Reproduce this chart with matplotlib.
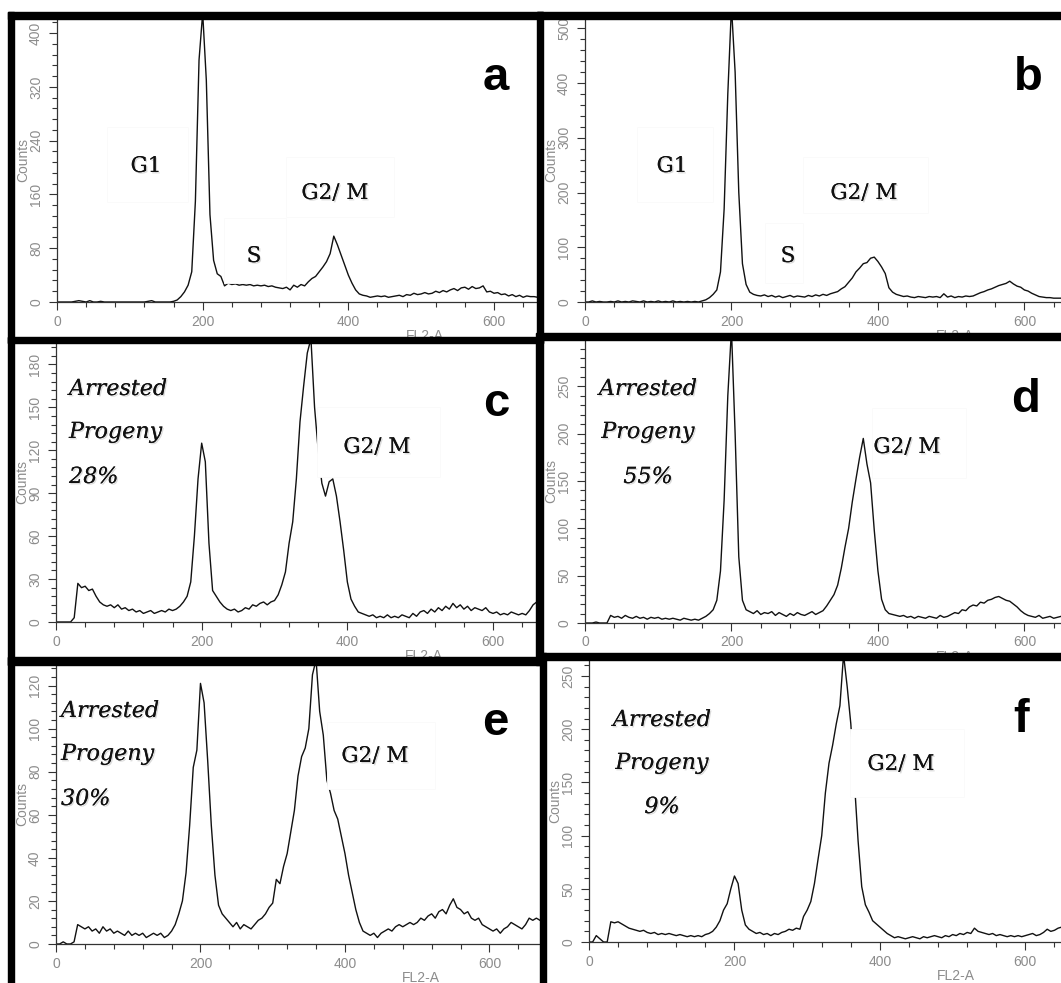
import numpy as np
import matplotlib.pyplot as plt
from matplotlib.patches import Rectangle
from matplotlib.ticker import MultipleLocator
import matplotlib.patheffects as pe

plt.rcParams['font.family'] = ['Liberation Sans', 'DejaVu Sans']

# FL2-A channel grid (every 5 channels), counts
channel = np.arange(0, 675, 5)

counts_a = [0, 0, 0, 0, 0, 1, 2, 1, 0, 2,
            0, 0, 1, 0, 0, 0, 0, 0, 0, 0,
            0, 0, 0, 0, 0, 1, 2, 0, 0, 0,
            0, 0, 1, 3, 8, 15, 25, 45, 150, 360,
            430, 330, 130, 62, 42, 38, 24, 28, 26, 27,
            25, 26, 25, 26, 24, 25, 24, 25, 23, 24,
            22, 21, 20, 22, 18, 25, 22, 26, 24, 30,
            35, 38, 45, 52, 60, 72, 98, 85, 70, 55,
            40, 28, 18, 12, 10, 9, 7, 8, 9, 8,
            9, 7, 8, 9, 10, 8, 11, 10, 13, 11,
            12, 14, 12, 13, 16, 14, 17, 15, 18, 20,
            17, 21, 22, 19, 23, 20, 21, 24, 15, 16,
            13, 14, 11, 12, 9, 11, 8, 10, 7, 9,
            8, 8, 7, 8, 8]

counts_b = [0, 0, 2, 0, 1, 0, 0, 1, 0, 2,
            0, 1, 0, 2, 1, 0, 2, 0, 1, 0,
            2, 0, 1, 0, 2, 0, 1, 0, 1, 0,
            1, 0, 2, 4, 8, 14, 22, 55, 170, 380,
            540, 420, 200, 70, 32, 18, 14, 12, 11, 13,
            10, 12, 9, 11, 8, 10, 12, 9, 11, 10,
            9, 12, 10, 13, 11, 14, 12, 15, 17, 19,
            24, 28, 36, 44, 55, 62, 70, 72, 80, 82,
            74, 64, 52, 26, 18, 14, 12, 10, 11, 9,
            8, 10, 9, 8, 10, 9, 10, 8, 15, 9,
            11, 8, 10, 9, 11, 10, 11, 14, 17, 19,
            22, 24, 27, 30, 32, 34, 38, 33, 29, 27,
            22, 20, 16, 13, 10, 9, 8, 8, 7, 7,
            7, 6, 6, 6, 6]

counts_c = [0, 0, 0, 0, 0, 3, 27, 24, 25, 22,
            23, 18, 14, 12, 11, 12, 10, 12, 9, 10,
            8, 9, 7, 8, 6, 7, 8, 6, 7, 8,
            7, 9, 8, 9, 11, 14, 18, 28, 60, 100,
            125, 112, 55, 22, 18, 14, 11, 9, 8, 9,
            7, 8, 10, 9, 12, 11, 13, 14, 12, 14,
            15, 19, 26, 35, 55, 70, 100, 140, 165, 188,
            198, 150, 120, 97, 88, 98, 100, 88, 70, 50,
            28, 16, 11, 7, 6, 5, 4, 5, 3, 4,
            3, 5, 3, 4, 3, 5, 4, 3, 6, 4,
            7, 8, 6, 9, 7, 10, 8, 11, 9, 13,
            10, 12, 9, 11, 8, 10, 9, 8, 10, 7,
            6, 7, 5, 6, 5, 7, 6, 5, 6, 5,
            8, 12, 14, 12, 10]

counts_d = [0, 0, 0, 1, 0, 0, 0, 8, 6, 7,
            5, 8, 6, 5, 7, 5, 6, 4, 6, 5,
            6, 4, 5, 4, 5, 4, 3, 5, 4, 3,
            4, 3, 5, 7, 10, 14, 24, 55, 130, 240,
            310, 200, 70, 24, 14, 12, 10, 13, 9, 11,
            10, 12, 8, 11, 9, 7, 10, 8, 11, 9,
            8, 10, 12, 9, 11, 13, 18, 24, 30, 40,
            58, 80, 100, 128, 152, 175, 195, 168, 148, 98,
            55, 25, 14, 10, 9, 8, 7, 8, 6, 7,
            5, 7, 6, 5, 7, 6, 5, 8, 6, 7,
            9, 11, 10, 14, 13, 17, 19, 18, 22, 21,
            24, 25, 27, 28, 26, 24, 23, 20, 17, 13,
            10, 8, 7, 6, 8, 5, 6, 7, 5, 6,
            7, 6, 6, 6, 6]

counts_e = [0, 0, 1, 0, 0, 1, 9, 8, 7, 8,
            6, 7, 5, 8, 6, 7, 5, 6, 5, 4,
            6, 4, 5, 4, 5, 3, 4, 5, 4, 5,
            3, 4, 6, 9, 14, 20, 33, 55, 82, 90,
            121, 112, 85, 55, 32, 18, 14, 12, 10, 8,
            10, 7, 9, 8, 7, 9, 11, 12, 14, 17,
            19, 30, 28, 36, 42, 52, 62, 78, 87, 91,
            100, 125, 132, 108, 97, 76, 70, 62, 58, 50,
            42, 32, 24, 16, 10, 6, 5, 4, 5, 3,
            5, 6, 7, 6, 8, 9, 8, 9, 10, 9,
            10, 12, 11, 13, 14, 12, 15, 16, 14, 18,
            21, 17, 16, 14, 15, 12, 11, 12, 9, 8,
            7, 6, 7, 5, 7, 8, 10, 9, 8, 7,
            9, 12, 11, 12, 11]

counts_f = [0, 0, 6, 3, 0, 0, 19, 18, 19, 17,
            15, 13, 12, 11, 10, 11, 9, 8, 9, 7,
            8, 7, 8, 7, 6, 7, 6, 5, 6, 5,
            6, 5, 7, 8, 10, 14, 20, 30, 36, 50,
            62, 55, 30, 16, 12, 10, 8, 9, 7, 8,
            6, 8, 7, 9, 10, 12, 11, 13, 12, 24,
            30, 38, 55, 78, 100, 140, 168, 185, 205, 222,
            270, 240, 205, 150, 95, 52, 35, 28, 20, 17,
            14, 11, 8, 6, 4, 5, 4, 3, 4, 5,
            4, 3, 5, 4, 5, 6, 5, 4, 6, 5,
            7, 6, 8, 7, 9, 8, 13, 10, 9, 8,
            7, 8, 6, 7, 6, 5, 6, 5, 6, 5,
            6, 7, 8, 6, 7, 9, 12, 10, 11, 13,
            14, 12, 13, 12, 12]

letters = ['a', 'b', 'c', 'd', 'e', 'f']
progeny = [None, None, '28%', '55%', '30%', '9%']

W, H = 1061, 983
fig = plt.figure(figsize=(W / 100, H / 100), dpi=100)
fig.patch.set_facecolor('white')


def px_text(x, y, s, **kw):
    return fig.text(x / W, 1 - y / H, s, **kw)


def black_bar(x0, y0, x1, y1):
    fig.add_artist(Rectangle((x0 / W, 1 - y1 / H), (x1 - x0) / W, (y1 - y0) / H,
                             transform=fig.transFigure, color='black', zorder=10))


# panel layout in pixels: left, top, right, bottom of the plot area, axis limits, y major step
panels = [
    dict(box=(57, 19, 537, 302), xmax=659, ymax=421, ymaj=80, counts=counts_a),
    dict(box=(585, 19, 1061, 302), xmax=650, ymax=517, ymaj=100, counts=counts_b),
    dict(box=(56, 343, 536, 622), xmax=659, ymax=195, ymaj=30, counts=counts_c),
    dict(box=(585, 340, 1061, 623), xmax=650, ymax=299, ymaj=50, counts=counts_d),
    dict(box=(56, 664, 540, 944), xmax=670, ymax=130, ymaj=20, counts=counts_e),
    dict(box=(589, 660, 1061, 942), xmax=649, ymax=265, ymaj=50, counts=counts_f),
]

# white label boxes sitting over the curves (data coords)
cover = [
    [(68, 149, 180, 261), (229, 28, 314, 125), (314, 127, 463, 216)],
    [(71, 183, 175, 320), (246, 34, 298, 144), (298, 162, 468, 265)],
    [(358, 101, 527, 150)],
    [(392, 153, 520, 227)],
    [(375, 72, 524, 103)],
    [(359, 136, 516, 200)],
]

axes = []
for i, p in enumerate(panels):
    l, t, r, b = p['box']
    ax = fig.add_axes([l / W, 1 - b / H, (r - l) / W, (b - t) / H])
    ax.plot(channel, p['counts'], color='#111111', lw=1.0, zorder=2)
    ax.set_xlim(0, p['xmax'])
    ax.set_ylim(0, p['ymax'])
    for s in ['top', 'right']:
        ax.spines[s].set_visible(False)
    for s in ['left', 'bottom']:
        ax.spines[s].set_color('#333333')
        ax.spines[s].set_linewidth(0.9)
    ax.xaxis.set_major_locator(MultipleLocator(200))
    ax.xaxis.set_minor_locator(MultipleLocator(40))
    ax.yaxis.set_major_locator(MultipleLocator(p['ymaj']))
    ax.yaxis.set_minor_locator(MultipleLocator(p['ymaj'] / 5))
    ax.tick_params(which='both', direction='out', color='#333333', width=0.8,
                   labelcolor='#8c8c8c', labelsize=10)
    ax.tick_params(which='major', length=6)
    ax.tick_params(which='minor', length=3.5)
    ax.tick_params(axis='x', pad=3)
    ax.tick_params(axis='y', pad=4)
    plt.setp(ax.get_yticklabels(), rotation=90, va='center')
    for (x0, y0, x1, y1) in cover[i]:
        ax.add_patch(Rectangle((x0, y0), x1 - x0, y1 - y0, facecolor='white',
                               edgecolor='#fafafa', lw=0.6, zorder=3))
    ax.text(-34 / (r - l), 0.5, 'Counts', transform=ax.transAxes, rotation=90,
            ha='center', va='center', fontsize=10, color='#8c8c8c')
    ax.text(505 / p['xmax'], -34 / (b - t), 'FL2-A', transform=ax.transAxes,
            ha='center', va='center', fontsize=10, color='#8c8c8c')
    axes.append(ax)

# panel letters
letter_pos = [(496, 90), (1028, 90), (496, 416), (1026, 412), (495, 735), (1021, 732)]
for s, (x, y) in zip(letters, letter_pos):
    px_text(x, y, s, fontsize=34, fontweight='bold', ha='center', va='baseline', zorder=5)

shadow = [pe.withSimplePatchShadow(offset=(1.0, -1.0), shadow_rgbFace='#b0b0b0', alpha=0.45),
          pe.Normal()]
serif = dict(family='DejaVu Serif', color='#111111', va='baseline', zorder=5,
             path_effects=shadow)

# phase labels
px_text(146, 172, 'G1', fontsize=15.5, ha='center', **serif)
px_text(254, 262, 'S', fontsize=15.5, ha='center', **serif)
px_text(335, 199, 'G2/ M', fontsize=15.5, ha='center', **serif)
px_text(672, 172, 'G1', fontsize=15.5, ha='center', **serif)
px_text(788, 262, 'S', fontsize=15.5, ha='center', **serif)
px_text(864, 199, 'G2/ M', fontsize=15.5, ha='center', **serif)
px_text(377, 453, 'G2/ M', fontsize=15.5, ha='center', **serif)
px_text(907, 453, 'G2/ M', fontsize=15.5, ha='center', **serif)
px_text(375, 762, 'G2/ M', fontsize=15.5, ha='center', **serif)
px_text(901, 770, 'G2/ M', fontsize=15.5, ha='center', **serif)

# arrested progeny labels: (x, baselines, alignment)
arrest_pos = {2: (69, (395, 438, 483), 'left'),
              3: (648, (395, 438, 483), 'center'),
              4: (61, (717, 760, 805), 'left'),
              5: (662, (726, 769, 813), 'center')}
for i, (x, ys, ha) in arrest_pos.items():
    for s, y in zip(['Arrested', 'Progeny', progeny[i]], ys):
        px_text(x, y, s, fontsize=16, style='italic', ha=ha, **serif)

# thick black panel frames
black_bar(8, 12, 543, 19)
black_bar(537, 12, 1061, 19)
black_bar(8, 12, 14, 343)
black_bar(537, 12, 543, 343)
black_bar(8, 337, 543, 343)
black_bar(537, 333, 1061, 340)
black_bar(8, 337, 14, 665)
black_bar(536, 333, 543, 665)
black_bar(8, 657, 543, 665)
black_bar(537, 653, 1061, 660)
black_bar(8, 657, 14, 983)
black_bar(540, 653, 546, 983)

fig.savefig('out.png', dpi=100, facecolor='white')
